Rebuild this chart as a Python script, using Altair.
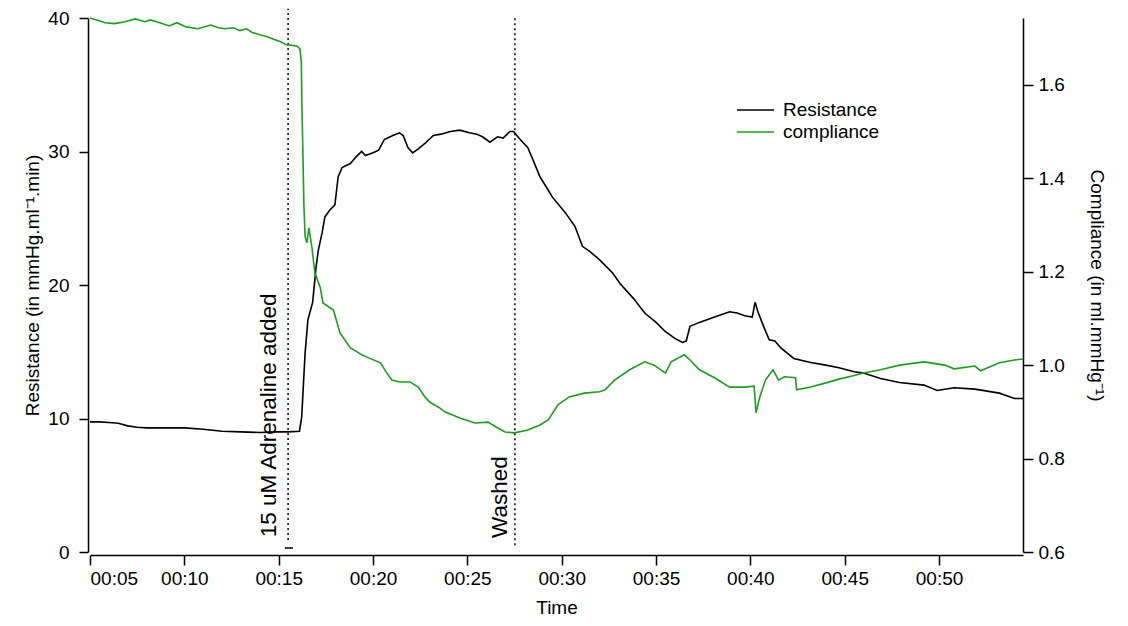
import altair as alt
import pandas as pd

# ---- data ----
res_time = [5.0, 5.5, 6.0, 6.5, 7.0, 7.5, 8.0, 9.0, 10.0, 11.0, 12.0, 13.0, 14.0, 15.0, 15.5, 16.1,
            16.22, 16.4, 16.55, 16.8, 16.98, 17.1, 17.3, 17.45, 17.7, 17.98, 18.15, 18.36, 18.8, 19.1,
            19.4, 19.6, 20.0, 20.3, 20.6, 21.05, 21.4, 21.6, 21.85, 22.1, 22.4, 22.75, 23.2, 23.6,
            24.1, 24.6, 25.1, 25.5, 25.8, 26.2, 26.6, 26.9, 27.25, 27.45, 27.8, 28.2, 28.5, 28.85,
            29.2, 29.5, 30.2, 30.7, 31.1, 31.5, 32.0, 32.7, 33.1, 33.8, 34.4, 35.0, 35.5, 36.0,
            36.4, 36.6, 36.8, 37.3, 38.1, 38.9, 39.3, 39.7, 40.1, 40.25, 40.4, 40.7, 41.0, 41.3,
            41.6, 42.3, 43.2, 44.0, 44.7, 45.5, 46.0, 46.9, 47.9, 49.2, 49.9, 50.8, 51.9, 53.2,
            54.0, 54.45]
resistance = [9.75, 9.75, 9.7, 9.65, 9.45, 9.35, 9.3, 9.3, 9.3, 9.2, 9.05, 9.0, 8.95, 9.0, 9.0, 9.05,
              10.1, 14.9, 17.4, 18.7, 21.3, 22.6, 23.9, 25.1, 25.6, 26.0, 28.1, 28.8, 29.1, 29.6,
              30.0, 29.7, 29.9, 30.1, 30.9, 31.2, 31.4, 31.2, 30.3, 29.9, 30.2, 30.6, 31.2, 31.3,
              31.5, 31.6, 31.4, 31.3, 31.1, 30.7, 31.1, 31.0, 31.5, 31.5, 30.9, 30.3, 29.3, 28.1,
              27.3, 26.6, 25.4, 24.4, 22.9, 22.5, 21.9, 20.9, 20.1, 19.0, 17.9, 17.2, 16.5, 16.0,
              15.7, 15.8, 16.9, 17.2, 17.6, 18.0, 17.9, 17.7, 17.6, 18.7, 18.0, 16.9, 15.9, 15.8,
              15.3, 14.5, 14.2, 14.0, 13.8, 13.5, 13.4, 13.0, 12.7, 12.5, 12.1, 12.3, 12.2, 11.9,
              11.5, 11.5]

comp_time = [5.0, 5.4, 5.8, 6.3, 6.85, 7.4, 7.9, 8.2, 8.7, 9.2, 9.6, 10.1, 10.7, 11.4, 11.8, 12.15,
             12.6, 12.95, 13.3, 13.6, 14.0, 14.4, 14.7, 15.1, 15.4, 15.97, 16.13, 16.2, 16.23, 16.34,
             16.4, 16.5, 16.6, 16.76, 16.92, 17.2, 17.35, 17.9, 18.25, 18.8, 19.1, 19.4, 19.8, 20.4,
             20.7, 21.0, 21.4, 21.96, 22.4, 22.75, 23.0, 23.55, 23.8, 24.6, 25.4, 26.1, 26.5, 27.0,
             27.5, 28.2, 28.85, 29.3, 29.8, 30.4, 31.2, 32.0, 32.3, 32.8, 33.6, 34.4, 34.9, 35.5,
             35.8, 36.5, 36.8, 37.3, 38.1, 38.9, 39.7, 40.2, 40.3, 40.5, 40.8, 41.2, 41.5, 41.8,
             42.4, 42.45, 43.2, 44.0, 44.7, 45.5, 46.0, 46.9, 47.9, 49.2, 50.3, 50.8, 51.9, 52.2,
             53.2, 54.0, 54.45]
compliance = [1.743, 1.738, 1.733, 1.731, 1.735, 1.741, 1.735, 1.739, 1.733, 1.726, 1.733, 1.724,
              1.72, 1.728, 1.722, 1.72, 1.722, 1.716, 1.72, 1.712, 1.707, 1.703, 1.698, 1.692, 1.686,
              1.683, 1.677, 1.649, 1.561, 1.339, 1.275, 1.262, 1.294, 1.253, 1.197, 1.167, 1.133,
              1.118, 1.069, 1.037, 1.03, 1.022, 1.015, 1.005, 0.985, 0.968, 0.964, 0.964, 0.953,
              0.932, 0.921, 0.908, 0.90, 0.887, 0.876, 0.878, 0.868, 0.857, 0.855, 0.861, 0.872,
              0.883, 0.915, 0.932, 0.94, 0.943, 0.947, 0.968, 0.99, 1.007, 1.0, 0.983, 1.007, 1.022,
              1.011, 0.99, 0.973, 0.953, 0.953, 0.955, 0.898, 0.932, 0.968, 0.99, 0.968, 0.975,
              0.973, 0.947, 0.953, 0.962, 0.97, 0.978, 0.983, 0.99, 1.0, 1.007, 1.0, 0.992, 0.998,
              0.988, 1.005, 1.011, 1.013]

# event markers (time in minutes, resistance units)
event_labels = ["15 uM Adrenaline added", "Washed"]
event_time = [15.5, 27.52]
event_y_low = [0.9, 0.5]
event_y_high = [40.7, 40.0]
event_text_time = [14.86, 27.1]
event_text_y = [1.1, 1.05]

dash_time = [15.33]
dash_time2 = [15.76]
dash_y = [0.3]

x_ticks = [5, 10, 15, 20, 25, 30, 35, 40, 45, 50]
res_ticks = [0, 10, 20, 30, 40]
comp_ticks = [0.6, 0.8, 1.0, 1.2, 1.4, 1.6]

series_names = ["Resistance", "compliance"]
series_colors = ["#000000", "#1c9e1c"]

FONT = "Liberation Sans"
FS = 19

df_res = pd.DataFrame({"t": res_time, "v": resistance, "series": "Resistance"})
df_comp = pd.DataFrame({"t": comp_time, "v": compliance, "series": "compliance"})
df_ev = pd.DataFrame({"label": event_labels, "t": event_time, "y1": event_y_low,
                      "y2": event_y_high, "tt": event_text_time, "ty": event_text_y})
df_dash = pd.DataFrame({"t": dash_time, "t2": dash_time2, "y": dash_y})

x_scale = alt.Scale(domain=[5, 54.45], nice=False, zero=False)
x_axis = alt.Axis(values=x_ticks, title="Time", offset=3,
                  labelExpr="'00:' + (datum.value < 10 ? '0' : '') + datum.value",
                  tickSize=10, labelPadding=4, titlePadding=10)
res_scale = alt.Scale(domain=[0, 40], nice=False, zero=False)
res_axis = alt.Axis(values=res_ticks, orient="left", offset=2, tickSize=9, labelPadding=10,
                    title="Resistance (in mmHg.ml⁻¹.min)", titlePadding=5)
comp_scale = alt.Scale(domain=[0.6, 1.743], nice=False, zero=False)
comp_axis = alt.Axis(values=comp_ticks, orient="right", format=".1f", tickSize=10,
                     labelPadding=5, title="Compliance (in ml.mmHg⁻¹)", titlePadding=22)

color = alt.Color("series:N",
                  scale=alt.Scale(domain=series_names, range=series_colors),
                  legend=alt.Legend(title=None, orient="none", legendX=646, legendY=81,
                                    symbolType="stroke", symbolSize=1369, symbolStrokeWidth=1.6,
                                    labelFontSize=FS, labelFont=FONT, labelOffset=8,
                                    clipHeight=22, rowPadding=0, padding=0, labelColor="black"))

res_line = alt.Chart(df_res).mark_line(strokeWidth=1.6).encode(
    x=alt.X("t:Q", scale=x_scale, axis=x_axis),
    y=alt.Y("v:Q", scale=res_scale, axis=res_axis),
    color=color,
)

rules = alt.Chart(df_ev).mark_rule(color="black", strokeWidth=1.5, strokeDash=[2, 3]).encode(
    x=alt.X("t:Q", scale=x_scale, axis=x_axis),
    y=alt.Y("y1:Q", scale=res_scale, axis=res_axis),
    y2="y2:Q",
)

dash = alt.Chart(df_dash).mark_rule(color="black", strokeWidth=1.5).encode(
    x=alt.X("t:Q", scale=x_scale, axis=x_axis),
    x2="t2:Q",
    y=alt.Y("y:Q", scale=res_scale, axis=res_axis),
)

texts = alt.Chart(df_ev).mark_text(angle=270, align="left", baseline="alphabetic",
                                   fontSize=22.5, font=FONT, color="black").encode(
    x=alt.X("tt:Q", scale=x_scale, axis=x_axis),
    y=alt.Y("ty:Q", scale=res_scale, axis=res_axis),
    text="label:N",
)

left_layer = alt.layer(res_line, rules, dash, texts)

comp_line = alt.Chart(df_comp).mark_line(strokeWidth=1.6).encode(
    x=alt.X("t:Q", scale=x_scale, axis=x_axis),
    y=alt.Y("v:Q", scale=comp_scale, axis=comp_axis),
    color=color,
)

chart = alt.layer(left_layer, comp_line).resolve_scale(y="independent").properties(
    width=933, height=534,
    background="white",
    autosize=alt.AutoSizeParams(type="none"),
    padding={"left": 82, "top": 10, "right": 97, "bottom": 66},
).configure_view(stroke=None).configure_axis(
    grid=False, domainColor="black", tickColor="black", domainWidth=1.5, tickWidth=1.5,
    labelFont=FONT, labelFontSize=FS, labelColor="black",
    titleFont=FONT, titleFontSize=FS, titleFontWeight="normal", titleColor="black",
)

chart.save("out.html", embed_options={"renderer": "svg", "actions": False})
